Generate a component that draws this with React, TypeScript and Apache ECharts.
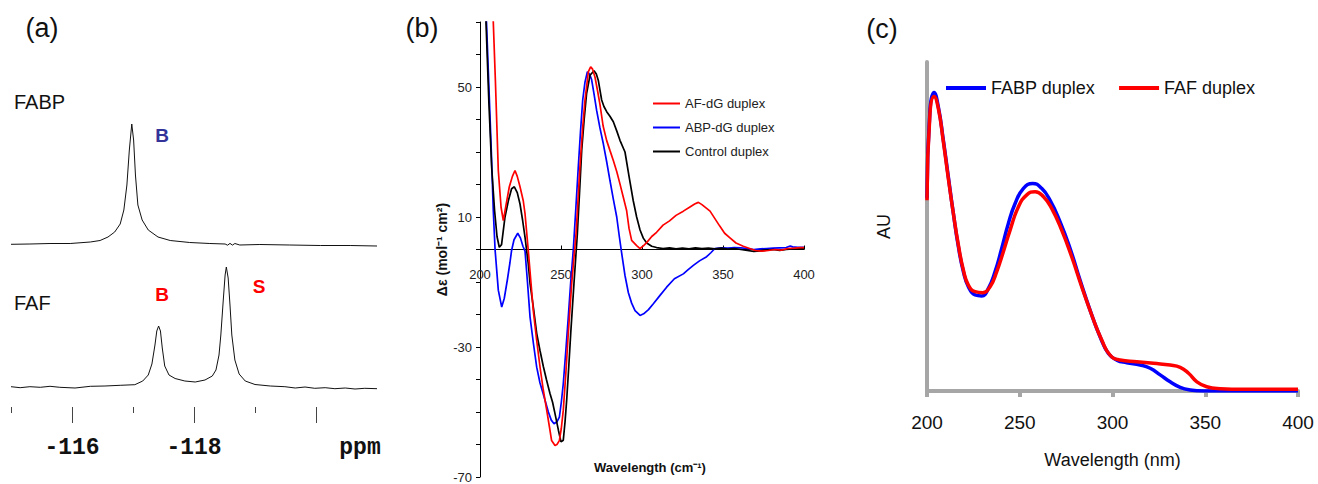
import React, { useEffect, useRef } from "react";
import * as echarts from "echarts";

const SANS = "'Liberation Sans', Arial, sans-serif";
const MONO = "'Liberation Mono', 'Courier New', monospace";

// ---------- Panel (a): 19F NMR ----------
const nmrMajorTicks = [-116, -118, -120];
const nmrMinorTicks = [-115, -117, -119];
const nmrTickLabels = [-116, -118];
const fabpSpectrum: [number, number][] = [
  [-115.0, 162.7], [-115.31, 163], [-115.64, 163.5], [-115.97, 163.5], [-116.3, 165],
  [-116.46, 166.5], [-116.59, 170], [-116.7, 175], [-116.79, 183], [-116.85, 197],
  [-116.9, 222], [-116.94, 257], [-116.98, 283], [-117.01, 267], [-117.04, 232],
  [-117.08, 202], [-117.15, 187], [-117.25, 177], [-117.41, 170], [-117.61, 166.5],
  [-117.93, 164.5], [-118.26, 163.5], [-118.51, 163], [-118.55, 161.8], [-118.59, 163.6],
  [-118.63, 161.9], [-118.67, 163.5], [-118.75, 162], [-119.08, 162.5], [-119.57, 162],
  [-120.07, 161.5], [-120.56, 161.5], [-121.0, 161],
];
const fafSpectrum: [number, number][] = [
  [-115.0, 20.3], [-115.15, 19.3], [-115.31, 20.3], [-115.48, 19.7], [-115.64, 20.7],
  [-115.8, 19.7], [-116.05, 19], [-116.3, 20.7], [-116.54, 21], [-116.79, 21.7],
  [-117.03, 22.3], [-117.16, 26], [-117.25, 32], [-117.31, 43], [-117.36, 62],
  [-117.39, 76], [-117.42, 81], [-117.45, 76], [-117.48, 59], [-117.52, 41],
  [-117.59, 32], [-117.69, 28.5], [-117.85, 26], [-118.02, 25], [-118.18, 27],
  [-118.3, 31], [-118.36, 37], [-118.41, 52], [-118.44, 72], [-118.48, 107],
  [-118.51, 132], [-118.53, 140], [-118.56, 129], [-118.59, 102], [-118.62, 72],
  [-118.67, 47], [-118.74, 33], [-118.84, 26], [-119.0, 22.5], [-119.25, 21],
  [-119.49, 20.3], [-119.66, 19], [-119.82, 20], [-119.98, 18.7], [-120.15, 19.3],
  [-120.31, 18.3], [-120.48, 19], [-120.64, 18], [-120.8, 18.7], [-121.0, 18.3],
];

// ---------- Panel (b): CD spectra ----------
const cdLegend = ["AF-dG duplex", "ABP-dG duplex", "Control duplex"];
const cdYTicks = [-70, -60, -50, -40, -30, -20, -10, 0, 10, 20, 30, 40, 50, 60, 70];
const cdYLabels = [-70, -30, 10, 50];
const cdAF: [number, number][] = [
  [205, 110], [206, 100], [208.2, 70], [209.5, 52], [211.3, 24.3], [213, 13], [214.4, 8.9],
  [216, 13.5], [218.1, 19.3], [220, 22.5], [221.6, 24.3], [223, 22.5], [224.7, 19.3],
  [226.7, 15], [227.8, 11], [230, -1.5], [232.9, -18.8], [235, -28], [237, -36], [239, -43],
  [241.2, -49.5], [243, -55], [244.2, -58.8], [246.3, -60.3], [247.5, -60], [249, -58.8],
  [250.2, -55], [251.4, -49.5], [253, -38], [254.5, -25.8], [256.6, -10.5], [259.3, 4.9],
  [261.7, 25.6], [263.3, 37], [264.8, 46], [266.9, 54.7], [268.3, 56.2], [269.5, 55.5],
  [271, 53], [272.5, 49], [274, 44.8], [276, 38], [278.2, 33.5], [280.2, 30.5], [282.3, 27.4],
  [284.4, 24], [286.4, 20.2], [288.5, 16], [290.5, 12], [292, 6.5], [293.6, 2.8], [296.7, 1.2],
  [298.8, 0.3], [301, 1.2], [303, 2.2], [306, 4], [309, 5.3], [313, 7.5], [317, 8.8],
  [321, 10.5], [325.5, 11.8], [329.6, 13.1], [332.5, 14], [334.8, 14.5], [337, 13.8],
  [339.5, 12.8], [342, 11.8], [345, 9.5], [348, 7.2], [351, 5], [354.3, 3.6], [358, 2],
  [362.5, 1], [366, 0.4], [370, -0.3], [374, -0.5], [378, -0.3], [382, 0], [386, -0.2],
  [390, 0.3], [394, 0.4], [398, 0.6], [400, 0.6],
];
const cdABP: [number, number][] = [
  [201, 110], [204, 70], [205.5, 50], [207, 30], [208.2, 12], [209.3, 0], [211.3, -12.5],
  [213.4, -17.7], [215, -15], [217, -9], [218.5, -4], [219.5, -0.3], [221, 3], [223.3, 5],
  [225, 3.5], [226.5, 1], [227.8, -0.5], [229.3, -10], [230.9, -20.8], [233, -29], [235, -36.2],
  [237, -41], [239, -44.4], [242.2, -50], [244, -52.5], [245.7, -53.6], [247.5, -53],
  [249, -51.6], [250.2, -47], [251.4, -41.3], [253, -31], [254.5, -20.8], [256, -10],
  [257.6, 0], [259.2, 13], [260.7, 25.6], [262, 36], [263.4, 46], [264.8, 51.5], [266.3, 54.7],
  [267.6, 54], [268.9, 52.3], [270.5, 47.5], [272, 42.8], [274, 37.5], [276.1, 32.6],
  [278.2, 27], [280.2, 21.3], [282.3, 15.5], [284.4, 10], [286, 4], [287.5, -1.3], [289.5, -8],
  [291.6, -13.3], [293.6, -16.5], [295.7, -18.8], [298.8, -20.3], [301, -19.8], [304, -18.5],
  [307, -16.7], [311, -14.2], [315.2, -11.6], [320, -9], [325.5, -7.5], [328.5, -6.2],
  [331.7, -4.9], [335.5, -3.5], [339.9, -2.2], [342.5, -1], [345, 0.3], [349, 0.5], [353, 0.4],
  [357, 0.6], [361, 0.5], [365, 0.3], [369, 0], [373, 0.2], [377, 0.3], [381, 0.4], [385, 0.5],
  [389, 0.6], [391.5, 1.1], [393, 0.8], [396, 0.7], [400, 0.7],
];
const cdControl: [number, number][] = [
  [201, 110], [203.7, 70], [205.5, 45], [207.2, 25.3], [209, 12], [210.5, 4], [211.9, 0.7],
  [213.3, 1.5], [215.4, 9.9], [217.5, 15], [219.5, 18.7], [221.2, 19.3], [223, 17.5],
  [224.7, 14], [226.3, 9], [227.8, 3.7], [229.8, -4.4], [230.9, -10.5], [233, -18],
  [235, -25.8], [237, -31], [239.1, -36], [241, -40], [243.2, -44.3], [244.8, -47],
  [246.3, -50.5], [248.4, -55.6], [250, -59.2], [251.4, -58.7], [252.5, -53], [253.5, -46.4],
  [254.8, -36], [256, -25.8], [258, -10.5], [260.1, 4.9], [261.5, 18], [262.8, 30.6],
  [264.3, 40], [265.8, 48], [267.9, 53.6], [270.4, 55], [271.8, 54], [273, 52.1], [275.1, 46],
  [276.5, 44], [278.2, 42.4], [280.2, 41], [282.3, 39.3], [284.4, 36.5], [286.4, 33.6],
  [289.5, 30], [292, 22.5], [294.6, 15], [296.7, 10], [298.8, 6], [300.8, 3.5], [302.9, 2],
  [306, 1], [309, 0.6], [313, 0.3], [317, 0.5], [321, 0.2], [325, 0.4], [329, 0.2], [333, 0.5],
  [337, 0.3], [341, 0.4], [345, 0.2], [349, 0.4], [353, 0.1], [357, 0.3], [361, 0], [365, -0.3],
  [369, -0.6], [373, -0.4], [377, -0.2], [381, 0], [385, -0.3], [389, 0], [393, 0.2],
  [397, 0.3], [400, 0.3],
];

// ---------- Panel (c): UV absorbance ----------
const uvLegend = ["FABP duplex", "FAF duplex"];
const uvFABP: [number, number][] = [
  [200, 58.6], [201.6, 85.4], [203.8, 90.7], [206.1, 86.4], [208.8, 76.3], [211.5, 65.1],
  [214.2, 54], [216.9, 43.9], [219.6, 36.3], [222.3, 31.7], [225.9, 29.2], [229.5, 28.9],
  [233.1, 31.2], [236.7, 36.3], [240.3, 43.4], [243.9, 51], [247.5, 57], [252, 61.6],
  [257, 63.1], [261.8, 61.6], [266.3, 58], [271.7, 51.5], [277.1, 43.4], [282.5, 33.7],
  [287.9, 24.6], [293.3, 16.5], [297.8, 11.4], [302.3, 9.4], [307.7, 8.6], [314.9, 7.9],
  [320.3, 6.9], [325.7, 4.9], [331.1, 2.8], [336.5, 1.1], [341.9, 0.3], [349, 0],
  [360, 0], [380, 0], [400, 0],
];
const uvFAF: [number, number][] = [
  [200, 58], [201.6, 84.4], [203.8, 89.5], [206.1, 85.9], [208.8, 75.8], [211.5, 64.6],
  [214.2, 54], [216.9, 44.4], [219.6, 36.8], [222.3, 32.2], [225.9, 30.2], [230, 29.9],
  [234, 31.7], [237.6, 36.3], [241.2, 42.4], [244.8, 48.9], [249.3, 56], [253.8, 59.6],
  [258.3, 60.6], [262.7, 59.1], [267.2, 55.5], [272.6, 48.9], [278, 40.8], [283.4, 31.7],
  [288.8, 23.1], [294.2, 15.5], [298.7, 10.9], [304.1, 9.4], [313.1, 8.9], [322.1, 8.4],
  [331.1, 7.9], [336.5, 7.2], [341, 5.4], [345.5, 2.8], [350.8, 1.3], [358, 0.7],
  [370.6, 0.5], [385, 0.5], [400, 0.5],
];

const txt = (
  text: string, x: number, y: number, size: number, opts: Record<string, any> = {}
) => ({
  type: "text",
  x,
  y,
  silent: true,
  style: {
    text,
    fontSize: size,
    fontFamily: opts.fontFamily || SANS,
    fontWeight: opts.fontWeight || "normal",
    fill: opts.fill || "#111",
    align: opts.align || "center",
    verticalAlign: "middle",
  },
});

export default function App() {
  const ref = useRef<HTMLDivElement>(null);
  useEffect(() => {
    if (!ref.current) return;
    const chart = echarts.init(ref.current, undefined, { renderer: "svg" });
    const lineSeries = (
      name: string, data: [number, number][], color: string, width: number,
      xi: number, yi: number, smooth = false
    ) => ({
      type: "line",
      name,
      data,
      xAxisIndex: xi,
      yAxisIndex: yi,
      symbol: "none",
      showSymbol: false,
      smooth,
      clip: true,
      itemStyle: { color },
      lineStyle: { color, width },
      emphasis: { disabled: true },
    });
    const cdTop = 22;
    const cdHeight = 455;
    const cdZeroOffset = -(cdHeight * 70) / 140; // move the x axis up to the zero line
    const option: any = {
      animation: false,
      backgroundColor: "#ffffff",
      grid: [
        { left: 11, top: 100, width: 366, height: 307, outerBoundsMode: "none" },
        { left: 480, top: cdTop, width: 324, height: cdHeight, outerBoundsMode: "none" },
        { left: 927, top: 62, width: 371, height: 329, outerBoundsMode: "none" },
      ],
      xAxis: [
        {
          gridIndex: 0, type: "value", min: -121, max: -115, inverse: true,
          axisLine: { show: false, onZero: false },
          axisTick: { show: true, customValues: nmrMajorTicks, length: 16, lineStyle: { color: "#444", width: 1 } },
          axisLabel: { customValues: nmrTickLabels, margin: 29, fontFamily: MONO, fontWeight: "bold", fontSize: 23, color: "#111" },
          splitLine: { show: false },
        },
        {
          gridIndex: 0, type: "value", min: -121, max: -115, inverse: true, position: "bottom",
          axisLine: { show: false, onZero: false },
          axisTick: { show: true, customValues: nmrMinorTicks, length: 6, lineStyle: { color: "#444", width: 1 } },
          axisLabel: { show: false },
          splitLine: { show: false },
        },
        {
          gridIndex: 1, type: "value", min: 200, max: 400, interval: 50,
          position: "bottom", offset: cdZeroOffset,
          axisLine: { show: true, onZero: false, lineStyle: { color: "#000", width: 1 } },
          axisTick: { show: true, inside: true, length: 4, lineStyle: { color: "#000" } },
          axisLabel: { margin: 18, fontSize: 13, fontFamily: SANS, color: "#222" },
          splitLine: { show: false },
        },
        {
          gridIndex: 2, type: "value", min: 200, max: 400, interval: 50,
          axisLine: { show: true, onZero: false, lineStyle: { color: "#a6a6a6", width: 4 } },
          axisTick: { show: true, length: 6, lineStyle: { color: "#a6a6a6", width: 4 } },
          axisLabel: { margin: 22, fontSize: 19, fontFamily: SANS, color: "#111" },
          splitLine: { show: false },
          name: "Wavelength (nm)", nameLocation: "middle", nameGap: 60,
          nameTextStyle: { fontSize: 18, fontFamily: SANS, color: "#111" },
        },
      ],
      yAxis: [
        { gridIndex: 0, type: "value", min: 0, max: 307, show: false },
        {
          gridIndex: 1, type: "value", min: -70, max: 70,
          axisLine: { show: true, onZero: false, lineStyle: { color: "#000", width: 1 } },
          axisTick: { show: true, customValues: cdYTicks, length: 4, lineStyle: { color: "#000" } },
          axisLabel: { customValues: cdYLabels, margin: 8, fontSize: 13, fontFamily: SANS, color: "#222" },
          splitLine: { show: false },
          name: "Δε (mol⁻¹ cm²)", nameLocation: "middle", nameGap: 30, nameRotate: 90,
          nameTextStyle: { fontSize: 14, fontWeight: "bold", fontFamily: SANS, color: "#111" },
        },
        {
          gridIndex: 2, type: "value", min: 0, max: 100,
          axisLine: { show: true, onZero: false, lineStyle: { color: "#a6a6a6", width: 4 } },
          axisTick: { show: false },
          axisLabel: { show: false },
          splitLine: { show: false },
          name: "AU", nameLocation: "middle", nameGap: 34,
          nameTextStyle: { fontSize: 18, fontFamily: SANS, color: "#111" },
        },
      ],
      legend: [
        {
          data: cdLegend, orient: "vertical", left: 653, top: 97, padding: 0,
          itemWidth: 27, itemHeight: 2, itemGap: 11, icon: "rect", selectedMode: false,
          textStyle: { fontSize: 13, fontFamily: SANS, color: "#222" },
        },
        {
          data: uvLegend, orient: "horizontal", left: 946, top: 79, padding: 0,
          itemWidth: 40, itemHeight: 4, itemGap: 24, icon: "rect", selectedMode: false,
          textStyle: { fontSize: 18, fontFamily: SANS, color: "#111" },
        },
      ],
      series: [
        lineSeries("FABP", fabpSpectrum, "#111", 1, 0, 0),
        lineSeries("FAF", fafSpectrum, "#111", 1, 0, 0),
        lineSeries("ABP-dG duplex", cdABP, "#0000ff", 1.7, 2, 1),
        lineSeries("Control duplex", cdControl, "#000000", 1.7, 2, 1),
        lineSeries("AF-dG duplex", cdAF, "#ff0000", 1.7, 2, 1),
        lineSeries("FABP duplex", uvFABP, "#0000ff", 3.5, 3, 2, true),
        lineSeries("FAF duplex", uvFAF, "#ff0000", 3.5, 3, 2, true),
      ],
      graphic: [
        txt("(a)", 42, 28, 27),
        txt("(b)", 422, 28, 27),
        txt("(c)", 882, 29, 27),
        txt("FABP", 14, 102, 20, { align: "left" }),
        txt("FAF", 14, 303, 20, { align: "left" }),
        txt("B", 162, 135, 19, { fontWeight: "bold", fill: "#333399" }),
        txt("B", 162, 294, 19, { fontWeight: "bold", fill: "#ff0000" }),
        txt("S", 259, 286, 19, { fontWeight: "bold", fill: "#ff0000" }),
        txt("ppm", 360, 448, 23, { fontFamily: MONO, fontWeight: "bold" }),
        txt("Wavelength (cm⁻¹)", 650, 467, 13, { fontWeight: "bold" }),
      ],
    };
    chart.setOption(option);
    return () => chart.dispose();
  }, []);
  return (
    <div
      ref={ref}
      style={{ position: "fixed", left: 0, top: 0, width: 1318, height: 484, background: "#fff" }}
    />
  );
}
